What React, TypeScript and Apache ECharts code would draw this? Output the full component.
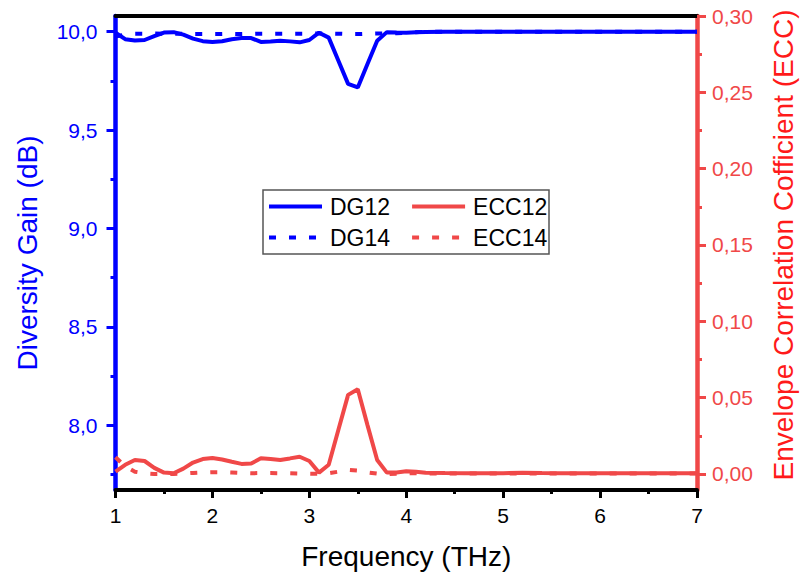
import React, { useEffect, useRef } from "react";
import * as echarts from "echarts";

const freq = [
  1.0, 1.1, 1.2, 1.3, 1.4, 1.5, 1.6, 1.7, 1.8, 1.9,
  2.0, 2.1, 2.2, 2.3, 2.4, 2.5, 2.6, 2.7, 2.8, 2.9,
  3.0, 3.1, 3.2, 3.3, 3.4, 3.5, 3.6, 3.7, 3.8, 3.9,
  4.0, 4.1, 4.2, 4.4, 4.6, 4.8, 5.0, 5.2, 5.4, 5.6,
  5.8, 6.0, 6.2, 6.4, 6.6, 6.8, 7.0,
];

const dg12 = [
  9.995, 9.962, 9.955, 9.958, 9.978, 9.996, 9.998, 9.985, 9.965, 9.952,
  9.948, 9.952, 9.962, 9.968, 9.968, 9.948, 9.95, 9.954, 9.951, 9.946,
  9.958, 9.995, 9.97, 9.852, 9.735, 9.717, 9.836, 9.954, 9.998, 9.996,
  9.995, 9.997, 9.999, 10.0, 10.0, 10.0, 10.0, 10.0, 10.0, 10.0,
  10.0, 10.0, 10.0, 10.0, 10.0, 10.0, 10.0,
];

const dg14 = [
  9.975, 9.986, 9.99, 9.99, 9.991, 9.99, 9.99, 9.99, 9.989, 9.989,
  9.988, 9.988, 9.989, 9.988, 9.989, 9.99, 9.99, 9.99, 9.99, 9.99,
  9.99, 9.991, 9.991, 9.99, 9.988, 9.988, 9.99, 9.991, 9.991, 9.992,
  9.995, 9.998, 10.0, 10.0, 10.0, 10.0, 10.0, 10.0, 10.0, 10.0,
  10.0, 10.0, 10.0, 10.0, 10.0, 10.0, 10.0,
];

const ecc12 = [
  0.0015, 0.006, 0.0092, 0.0085, 0.004, 0.0009, 0.0005, 0.0035, 0.0075, 0.0098,
  0.0105, 0.0095, 0.008, 0.0066, 0.0068, 0.0103, 0.0098, 0.0092, 0.0102, 0.0113,
  0.0085, 0.0009, 0.006, 0.029, 0.0518, 0.0555, 0.032, 0.0092, 0.0009, 0.001,
  0.0018, 0.0015, 0.0008, 0.0006, 0.0005, 0.0005, 0.0005, 0.0008, 0.0006, 0.0005,
  0.0005, 0.0005, 0.0004, 0.0005, 0.0004, 0.0004, 0.0004,
];

const ecc14 = [
  0.011, 0.005, 0.0015, 0.0004, 0.0, 0.0, 0.0, 0.0003, 0.0007, 0.001,
  0.0012, 0.0012, 0.001, 0.0007, 0.0005, 0.0006, 0.0006, 0.0005, 0.0005, 0.0003,
  0.0002, 0.0001, 0.0005, 0.0015, 0.0027, 0.0022, 0.001, 0.0002, 0.0, 0.0002,
  0.0004, 0.0004, 0.0003, 0.0003, 0.0003, 0.0003, 0.0003, 0.0003, 0.0003, 0.0003,
  0.0003, 0.0003, 0.0003, 0.0003, 0.0003, 0.0003, 0.0003,
];

const leftTicks = [8.0, 8.5, 9.0, 9.5, 10.0];
const leftMinor = [7.75, 8.25, 8.75, 9.25, 9.75];
const rightTicks = [0, 0.05, 0.1, 0.15, 0.2, 0.25, 0.3];
const rightMinor = [0.025, 0.075, 0.125, 0.175, 0.225, 0.275];

const BLUE = "#0000FF";
const RED = "#F04848";
const RED_TITLE = "#FF1A1A";
const FONT = "'Liberation Sans', Arial, sans-serif";

const pairs = (ys: number[]) => freq.map((f, i) => [f, ys[i]]);

export default function App() {
  const ref = useRef<HTMLDivElement>(null);
  useEffect(() => {
    if (!ref.current) return;
    const chart = echarts.init(ref.current, undefined, { renderer: "svg" });
    const leftMin = 7.67;
    const leftMax = 10.08;
    const rightMin = -0.0105;
    const rightMax = 0.3;
    const legendCommon = {
      left: 267,
      padding: 0,
      itemWidth: 53,
      itemHeight: 14,
      itemGap: 20,
      selectedMode: false,
      itemStyle: { opacity: 0, borderWidth: 0 },
      lineStyle: { width: 4, cap: "butt" },
      textStyle: { fontSize: 23, color: "#000", fontFamily: FONT, padding: [0, 0, 0, 3] },
    };
    chart.setOption({
      animation: false,
      backgroundColor: "#ffffff",
      textStyle: { fontFamily: FONT },
      grid: { left: 115.5, right: 101.5, top: 16, bottom: 92, containLabel: false },
      legend: [
        { ...legendCommon, data: ["DG12", "ECC12"], top: 195 },
        { ...legendCommon, data: ["DG14", "ECC14"], top: 226 },
      ],
      graphic: [
        {
          type: "rect",
          shape: { x: 263, y: 190, width: 286, height: 64 },
          style: { fill: "#ffffff", stroke: "#555555", lineWidth: 1.5 },
          z: 0,
          zlevel: 0,
        },
      ],
      xAxis: [
        {
          type: "value",
          position: "bottom",
          min: 1,
          max: 7,
          interval: 1,
          axisLine: { show: true, onZero: false, lineStyle: { color: "#000", width: 4 } },
          axisTick: { show: true, inside: false, length: 8, lineStyle: { color: "#000", width: 3 } },
          minorTick: { show: true, splitNumber: 2, length: 4, lineStyle: { color: "#000", width: 3 } },
          axisLabel: { fontSize: 21, color: "#000", margin: 15, fontFamily: FONT },
          splitLine: { show: false },
          minorSplitLine: { show: false },
          name: "Frequency (THz)",
          nameLocation: "middle",
          nameGap: 52,
          nameTextStyle: { fontSize: 28, color: "#000", fontFamily: FONT },
        },
        {
          type: "value",
          position: "top",
          min: 1,
          max: 7,
          axisLine: { show: true, onZero: false, lineStyle: { color: "#000", width: 4 } },
          axisTick: { show: false },
          axisLabel: { show: false },
          splitLine: { show: false },
        },
      ],
      yAxis: [
        {
          type: "value",
          position: "left",
          min: leftMin,
          max: leftMax,
          axisLine: { show: true, onZero: false, lineStyle: { color: BLUE, width: 4.5 } },
          axisTick: { show: true, inside: false, length: 9, customValues: leftTicks, lineStyle: { color: BLUE, width: 3 } },
          axisLabel: {
            show: true,
            customValues: leftTicks,
            formatter: (v: number) => v.toFixed(1).replace(".", ","),
            color: BLUE,
            fontSize: 21,
            margin: 18,
            fontFamily: FONT,
          },
          splitLine: { show: false },
          name: "Diversity Gain (dB)",
          nameLocation: "middle",
          nameRotate: 90,
          nameGap: 74,
          nameTextStyle: { color: BLUE, fontSize: 28, fontFamily: FONT },
        },
        {
          type: "value",
          position: "left",
          min: leftMin,
          max: leftMax,
          axisLine: { show: false, onZero: false },
          axisTick: { show: true, inside: false, length: 5, customValues: leftMinor, lineStyle: { color: BLUE, width: 3 } },
          axisLabel: { show: false },
          splitLine: { show: false },
        },
        {
          type: "value",
          position: "right",
          min: rightMin,
          max: rightMax,
          axisLine: { show: true, onZero: false, lineStyle: { color: RED, width: 4.5 } },
          axisTick: { show: true, inside: false, length: 9, customValues: rightTicks, lineStyle: { color: RED, width: 3 } },
          axisLabel: {
            show: true,
            customValues: rightTicks,
            formatter: (v: number) => v.toFixed(2).replace(".", ","),
            color: RED,
            fontSize: 21,
            margin: 15,
            fontFamily: FONT,
          },
          splitLine: { show: false },
          name: "Envelope Correlation Cofficient (ECC)",
          nameLocation: "middle",
          nameRotate: 90,
          nameGap: 72,
          nameTextStyle: { color: RED_TITLE, fontSize: 28, fontFamily: FONT, padding: [0, 0, 0, 16] },
        },
        {
          type: "value",
          position: "right",
          min: rightMin,
          max: rightMax,
          axisLine: { show: false, onZero: false },
          axisTick: { show: true, inside: false, length: 5, customValues: rightMinor, lineStyle: { color: RED, width: 3 } },
          axisLabel: { show: false },
          splitLine: { show: false },
        },
      ],
      series: [
        {
          name: "DG12",
          type: "line",
          xAxisIndex: 0,
          yAxisIndex: 0,
          data: pairs(dg12),
          symbol: "none",
          lineStyle: { color: BLUE, width: 4 },
          itemStyle: { color: BLUE },
          z: 3,
        },
        {
          name: "DG14",
          type: "line",
          xAxisIndex: 0,
          yAxisIndex: 0,
          data: pairs(dg14),
          symbol: "none",
          lineStyle: { color: BLUE, width: 4, type: [7, 13], cap: "butt" },
          itemStyle: { color: BLUE },
          z: 3,
        },
        {
          name: "ECC12",
          type: "line",
          xAxisIndex: 0,
          yAxisIndex: 2,
          data: pairs(ecc12),
          symbol: "none",
          lineStyle: { color: RED, width: 4 },
          itemStyle: { color: RED },
          z: 3,
        },
        {
          name: "ECC14",
          type: "line",
          xAxisIndex: 0,
          yAxisIndex: 2,
          data: pairs(ecc14),
          symbol: "none",
          lineStyle: { color: RED, width: 4, type: [7, 13], cap: "butt" },
          itemStyle: { color: RED },
          z: 3,
        },
      ],
    });
    return () => chart.dispose();
  }, []);
  return (
    <div
      ref={ref}
      style={{ position: "absolute", left: 0, top: 0, width: 805, height: 582, background: "#fff" }}
    />
  );
}
